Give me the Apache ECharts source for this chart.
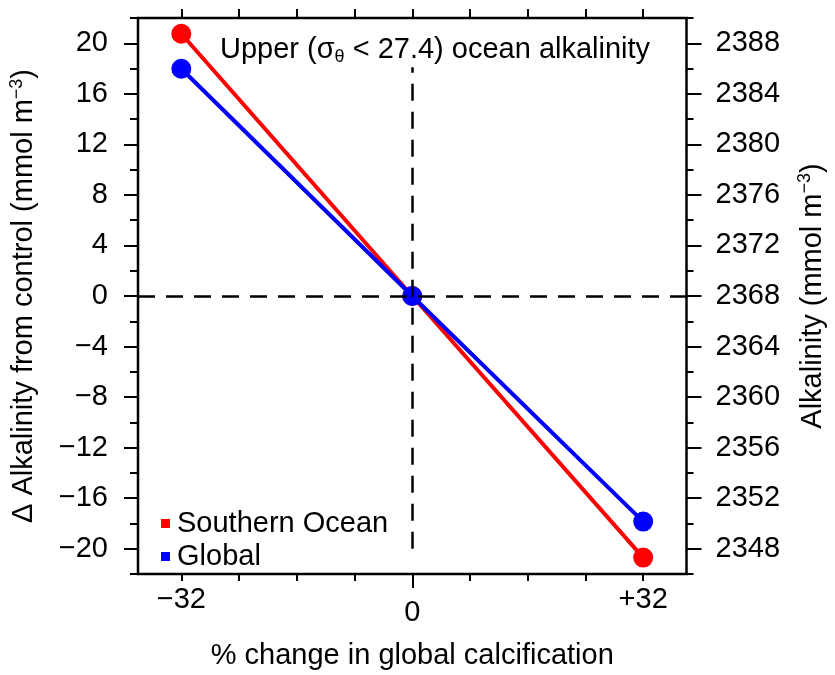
<!DOCTYPE html>
<html>
<head>
<meta charset="utf-8">
<script src="https://cdn.jsdelivr.net/npm/echarts@6/dist/echarts.min.js"></script>
<style>
  html, body { margin: 0; padding: 0; background: #fff; }
  #chart { width: 835px; height: 675px; }
</style>
</head>
<body>
<div id="chart"></div>
<script>
// data
var xValues = [-32, 0, 32]
var southernOcean = [20.75, 0, -20.7]
var globalOcean = [17.98, 0, -17.85]

var xLabelTicks = [-32, 0, 32]
var xMinorTicks = [-32, -24, -16, -8, 8, 16, 24, 32]
var xTopTicks = [-32, -24, -16, -8, 0, 8, 16, 24, 32]
var yMajorTicks = [-20, -16, -12, -8, -4, 0, 4, 8, 12, 16, 20]
var yMinorTicks = [-22, -18, -14, -10, -6, -2, 2, 6, 10, 14, 18, 22]
var alkMajorTicks = [2348, 2352, 2356, 2360, 2364, 2368, 2372, 2376, 2380, 2384, 2388]
var alkMinorTicks = [2346, 2350, 2354, 2358, 2362, 2366, 2370, 2374, 2378, 2382, 2386, 2390]

var FONT = 'Liberation Sans'
var FS = 29

function pairs (ys) {
  return xValues.map(function (x, i) { return [x, ys[i]] })
}

var chart = echarts.init(document.getElementById('chart'))

var tickStyle = { color: '#000', width: 2 }

var supRich = {
  a: { fontFamily: FONT, fontSize: FS, color: '#000', lineHeight: 32, verticalAlign: 'middle' },
  s: { fontFamily: FONT, fontSize: 18, color: '#000', lineHeight: 12, verticalAlign: 'top' }
}

chart.setOption({
  animation: false,
  backgroundColor: '#fff',
  textStyle: { fontFamily: FONT, color: '#000' },
  grid: {
    left: 135,
    right: 145,
    top: 18,
    bottom: 101,
    show: true,
    borderColor: '#000',
    borderWidth: 2.5,
    backgroundColor: 'transparent'
  },
  title: {
    text: '{a|Upper (σ}{b|θ}{a| < 27.4) ocean alkalinity}',
    left: 215,
    top: 29,
    textStyle: {
      fontWeight: 'normal',
      rich: {
        a: { fontFamily: FONT, fontSize: FS, fontWeight: 'normal', color: '#000', lineHeight: 32, verticalAlign: 'middle' },
        b: { fontFamily: FONT, fontSize: 18, fontWeight: 'normal', color: '#000', lineHeight: 12, verticalAlign: 'bottom' }
      }
    }
  },
  legend: {
    orient: 'vertical',
    left: 156,
    top: 504,
    itemWidth: 9,
    itemHeight: 9,
    itemGap: 4,
    icon: 'rect',
    textStyle: { fontFamily: FONT, fontSize: FS, color: '#000', padding: [0, 0, 0, 2] },
    data: ['Southern Ocean', 'Global']
  },
  xAxis: [
    {
      type: 'value',
      position: 'bottom',
      min: -38,
      max: 38,
      splitLine: { show: false },
      axisLine: { show: false, onZero: false },
      axisTick: { show: true, length: 7, lineStyle: tickStyle, customValues: xMinorTicks },
      axisLabel: {
        customValues: xLabelTicks,
        margin: 11,
        fontFamily: FONT,
        fontSize: FS,
        color: '#000',
        formatter: function (v) {
          if (v === 0) return '{z|0}'
          return '{n|' + (v < 0 ? '−' : '+') + Math.abs(v) + '}'
        },
        rich: {
          z: { fontFamily: FONT, fontSize: FS, color: '#000', padding: [13, 0, 0, 0] },
          n: { fontFamily: FONT, fontSize: FS, color: '#000' }
        }
      },
      name: '% change in global calcification',
      nameLocation: 'middle',
      nameGap: 67,
      nameTextStyle: { fontFamily: FONT, fontSize: FS, color: '#000' }
    },
    {
      type: 'value',
      position: 'bottom',
      min: -38,
      max: 38,
      splitLine: { show: false },
      axisLine: { show: false, onZero: false },
      axisTick: { show: true, length: 14, lineStyle: tickStyle, customValues: [0] },
      axisLabel: { show: false }
    },
    {
      type: 'value',
      position: 'top',
      min: -38,
      max: 38,
      splitLine: { show: false },
      axisLine: { show: false, onZero: false },
      axisTick: { show: true, length: 9, lineStyle: tickStyle, customValues: xTopTicks },
      axisLabel: { show: false }
    }
  ],
  yAxis: [
    {
      type: 'value',
      position: 'left',
      min: -22,
      max: 22,
      splitLine: { show: false },
      axisLine: { show: false, onZero: false },
      axisTick: { show: true, length: 14, lineStyle: tickStyle, customValues: yMajorTicks },
      axisLabel: {
        customValues: yMajorTicks,
        margin: 30,
        fontFamily: FONT,
        fontSize: FS,
        color: '#000',
        formatter: function (v) { return v < 0 ? '−' + Math.abs(v) : String(v) }
      },
      name: '{a|Δ Alkalinity from control (mmol m}{s|−3}{a|)}',
      nameLocation: 'middle',
      nameGap: 98,
      nameRotate: 90,
      nameTextStyle: { rich: supRich }
    },
    {
      type: 'value',
      position: 'left',
      min: -22,
      max: 22,
      splitLine: { show: false },
      axisLine: { show: false, onZero: false },
      axisTick: { show: true, length: 8, lineStyle: tickStyle, customValues: yMinorTicks },
      axisLabel: { show: false }
    },
    {
      type: 'value',
      position: 'right',
      min: 2346,
      max: 2390,
      splitLine: { show: false },
      axisLine: { show: false, onZero: false },
      axisTick: { show: true, length: 15, lineStyle: tickStyle, customValues: alkMajorTicks },
      axisLabel: {
        customValues: alkMajorTicks,
        margin: 29,
        fontFamily: FONT,
        fontSize: FS,
        color: '#000',
        formatter: function (v) { return String(v) }
      },
      name: '{a|Alkalinity (mmol m}{s|−3}{a|)}',
      nameLocation: 'middle',
      nameGap: 110,
      nameRotate: 90,
      nameTextStyle: { rich: supRich }
    },
    {
      type: 'value',
      position: 'right',
      min: 2346,
      max: 2390,
      splitLine: { show: false },
      axisLine: { show: false, onZero: false },
      axisTick: { show: true, length: 7, lineStyle: tickStyle, customValues: alkMinorTicks },
      axisLabel: { show: false }
    }
  ],
  series: [
    {
      name: 'Southern Ocean',
      type: 'line',
      xAxisIndex: 0,
      yAxisIndex: 0,
      data: pairs(southernOcean),
      color: '#ff0000',
      symbol: 'circle',
      symbolSize: 20,
      lineStyle: { color: '#ff0000', width: 4 },
      itemStyle: { color: '#ff0000' },
      z: 3,
      markLine: {
        silent: true,
        symbol: 'none',
        label: { show: false },
        lineStyle: { color: '#000', width: 2.5, type: [17, 11] },
        data: [
          [{ coord: [-38, 0] }, { coord: [38, 0] }],
          [{ coord: [0, -20] }, { coord: [0, 18.1] }]
        ]
      }
    },
    {
      name: 'Global',
      type: 'line',
      xAxisIndex: 0,
      yAxisIndex: 0,
      data: pairs(globalOcean),
      color: '#0000ff',
      symbol: 'circle',
      symbolSize: 20,
      lineStyle: { color: '#0000ff', width: 4 },
      itemStyle: { color: '#0000ff' },
      z: 4
    }
  ]
})
</script>
</body>
</html>
